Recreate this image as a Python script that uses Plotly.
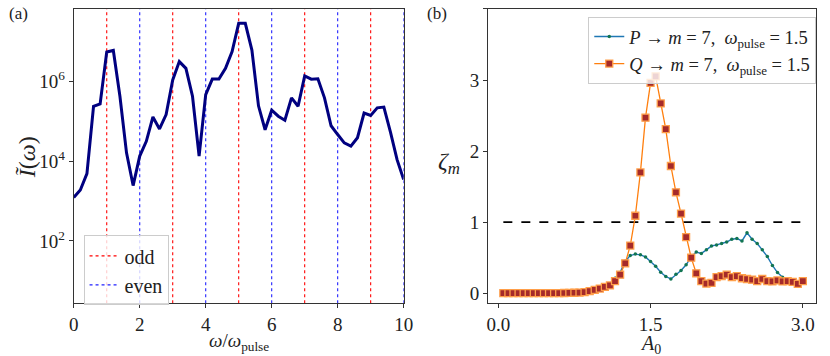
import numpy as np
import plotly.graph_objects as go

# ---- panel (a): spectrum ----
omega = [0.0, 0.2, 0.4, 0.6, 0.8, 1.0, 1.2, 1.4, 1.6, 1.8,
         2.0, 2.2, 2.4, 2.6, 2.8, 3.0, 3.2, 3.4, 3.6, 3.8,
         4.0, 4.2, 4.4, 4.6, 4.8, 5.0, 5.2, 5.4, 5.6, 5.8,
         6.0, 6.2, 6.4, 6.6, 6.8, 7.0, 7.2, 7.4, 7.6, 7.8,
         8.0, 8.2, 8.4, 8.6, 8.8, 9.0, 9.2, 9.4, 9.6, 9.8, 10.0]
log_I = [3.09, 3.28, 3.69, 5.38, 5.44, 6.74, 6.78, 5.63, 4.21, 3.39,
         4.13, 4.50, 5.11, 4.81, 5.17, 6.04, 6.50, 6.33, 5.63, 4.13,
         5.67, 6.06, 6.06, 6.33, 6.75, 7.46, 7.46, 6.79, 5.39, 4.79,
         5.28, 5.13, 5.03, 5.59, 5.38, 6.14, 6.06, 6.07, 5.59, 4.89,
         4.67, 4.46, 4.38, 4.59, 5.21, 5.15, 5.34, 5.36, 4.73, 4.04, 3.54]
intensity = [10 ** v for v in log_I]
odd_orders = [1, 3, 5, 7, 9]
even_orders = [2, 4, 6, 8, 10]
a_yrange = [0.44, 7.82]  # log10 limits

# ---- panel (b): zeta_m vs A0 ----
A0 = [round(0.05 * k, 2) for k in range(1, 61)]
zeta_Q = [0.0, 0.0, 0.0, 0.0, 0.0, 0.0, 0.0, 0.0, 0.001, 0.001,
          0.002, 0.002, 0.003, 0.004, 0.006, 0.009, 0.014, 0.028, 0.046, 0.065,
          0.09, 0.11, 0.17, 0.26, 0.42, 0.67, 1.09, 1.70, 2.47, 2.96,
          3.05, 2.67, 2.31, 1.79, 1.42, 1.12, 0.79, 0.50, 0.28, 0.17,
          0.135, 0.145, 0.225, 0.24, 0.26, 0.225, 0.24, 0.21, 0.20, 0.19,
          0.17, 0.20, 0.17, 0.165, 0.18, 0.165, 0.17, 0.16, 0.13, 0.17]
zeta_P = [0.0, 0.0, 0.0, 0.0, 0.0, 0.0, 0.0, 0.0, 0.001, 0.001,
          0.002, 0.002, 0.003, 0.004, 0.006, 0.01, 0.016, 0.03, 0.05, 0.07,
          0.10, 0.13, 0.21, 0.29, 0.45, 0.53, 0.55, 0.54, 0.51, 0.445,
          0.38, 0.295, 0.235, 0.20, 0.265, 0.32, 0.40, 0.51, 0.58, 0.56,
          0.61, 0.665, 0.68, 0.70, 0.72, 0.76, 0.77, 0.735, 0.85, 0.76,
          0.70, 0.61, 0.515, 0.39, 0.29, 0.225, 0.19, 0.17, 0.15, 0.16]
threshold = 1.0

FONT = "Liberation Serif, DejaVu Serif, serif"


def vlines(xs, lo, hi):
    x, y = [], []
    for v in xs:
        x += [v, v, None]
        y += [lo, hi, None]
    return x, y


fig = go.Figure()

ylo, yhi = 10 ** a_yrange[0], 10 ** a_yrange[1]
ox, oy = vlines(odd_orders, ylo, yhi)
ex, ey = vlines(even_orders, ylo, yhi)
fig.add_trace(go.Scatter(x=ox, y=oy, mode="lines", name="odd",
                         line=dict(color="red", width=1.1, dash="dot"),
                         xaxis="x", yaxis="y", legend="legend"))
fig.add_trace(go.Scatter(x=ex, y=ey, mode="lines", name="even",
                         line=dict(color="#2020ff", width=1.1, dash="dot"),
                         xaxis="x", yaxis="y", legend="legend"))
fig.add_trace(go.Scatter(x=omega, y=intensity, mode="lines", showlegend=False,
                         line=dict(color="navy", width=3),
                         xaxis="x", yaxis="y"))

# panel (b)
fig.add_trace(go.Scatter(x=[A0[0], A0[-1]], y=[threshold, threshold], mode="lines",
                         showlegend=False, line=dict(color="black", width=1.6, dash="dash"),
                         xaxis="x2", yaxis="y2"))
fig.add_trace(go.Scatter(x=A0, y=zeta_P, mode="lines+markers",
                         name="<i>P</i> → <i>m</i> = 7,  <i>ω</i><sub>pulse</sub> = 1.5",
                         line=dict(color="#1f77b4", width=1.4),
                         marker=dict(color="#127552", size=3.5, symbol="circle"),
                         xaxis="x2", yaxis="y2", legend="legend2"))
fig.add_trace(go.Scatter(x=A0, y=zeta_Q, mode="lines+markers",
                         name="<i>Q</i> → <i>m</i> = 7,  <i>ω</i><sub>pulse</sub> = 1.5",
                         line=dict(color="#ff7f0e", width=1.3),
                         marker=dict(color="#a52a2a", size=7, symbol="square",
                                     line=dict(color="#ff9f4a", width=1.3)),
                         xaxis="x2", yaxis="y2", legend="legend2"))

W, H = 830, 356
ax_common = dict(showline=True, mirror=True, linecolor="#333", linewidth=1,
                 ticks="outside", ticklen=4, tickcolor="#333", showgrid=False,
                 zeroline=False, tickfont=dict(family=FONT, size=19, color="#222"))


def label(text, px, py, size, angle=0):
    return dict(text=text, x=px / W, y=1 - py / H, xref="paper", yref="paper",
                xanchor="center", yanchor="middle", showarrow=False,
                textangle=angle, font=dict(family=FONT, size=size))


fig.update_layout(
    width=W, height=H,
    margin=dict(l=0, r=0, t=0, b=0),
    plot_bgcolor="white", paper_bgcolor="white",
    font=dict(family=FONT, color="#222"),
    xaxis=dict(domain=[70 / W, 406 / W], range=[0, 10],
               tickvals=[0, 2, 4, 6, 8, 10], anchor="y", **ax_common),
    yaxis=dict(domain=[1 - 304 / H, 1 - 9 / H], type="log", range=a_yrange,
               tickvals=[1e2, 1e4, 1e6],
               ticktext=["10<sup>2</sup>", "10<sup>4</sup>", "10<sup>6</sup>"],
               anchor="x", **ax_common),
    xaxis2=dict(domain=[492 / W, 826 / W], range=[-0.1, 3.13],
                tickvals=[0.0, 1.5, 3.0], ticktext=["0.0", "1.5", "3.0"], anchor="y2",
                **ax_common),
    yaxis2=dict(domain=[1 - 304 / H, 1 - 9 / H], range=[-0.14, 4],
                tickvals=[0, 1, 2, 3, 4], anchor="x2", **ax_common),
    legend=dict(x=80 / W, y=1 - 236 / H, xanchor="left", yanchor="top",
                bgcolor="rgba(255,255,255,0.8)", bordercolor="#ccc", borderwidth=1,
                font=dict(family=FONT, size=20), tracegroupgap=2),
    legend2=dict(x=594 / W, y=1 - 17 / H, xanchor="left", yanchor="top",
                 bgcolor="rgba(255,255,255,0.8)", bordercolor="#ccc", borderwidth=1,
                 font=dict(family=FONT, size=18.5)),
    annotations=[
        label("(a)", 14, 14, 17),
        label("(b)", 440, 14, 17),
        label("<i>ω</i>/<i>ω</i><sub>pulse</sub>", 238, 343, 19),
        label("<i>Ĩ</i>(<i>ω</i>)", 22, 158, 24, angle=-90),
        label("<i>A</i><sub>0</sub>", 657, 345, 20),
        label("<i>ζ</i><sub><i>m</i></sub>", 452, 163, 24),
    ],
)

# page body has a default margin; drop it so the figure sits at the window origin
fig.write_html("out.html", config={"displayModeBar": False},
               post_script="document.body.style.margin='0';")
